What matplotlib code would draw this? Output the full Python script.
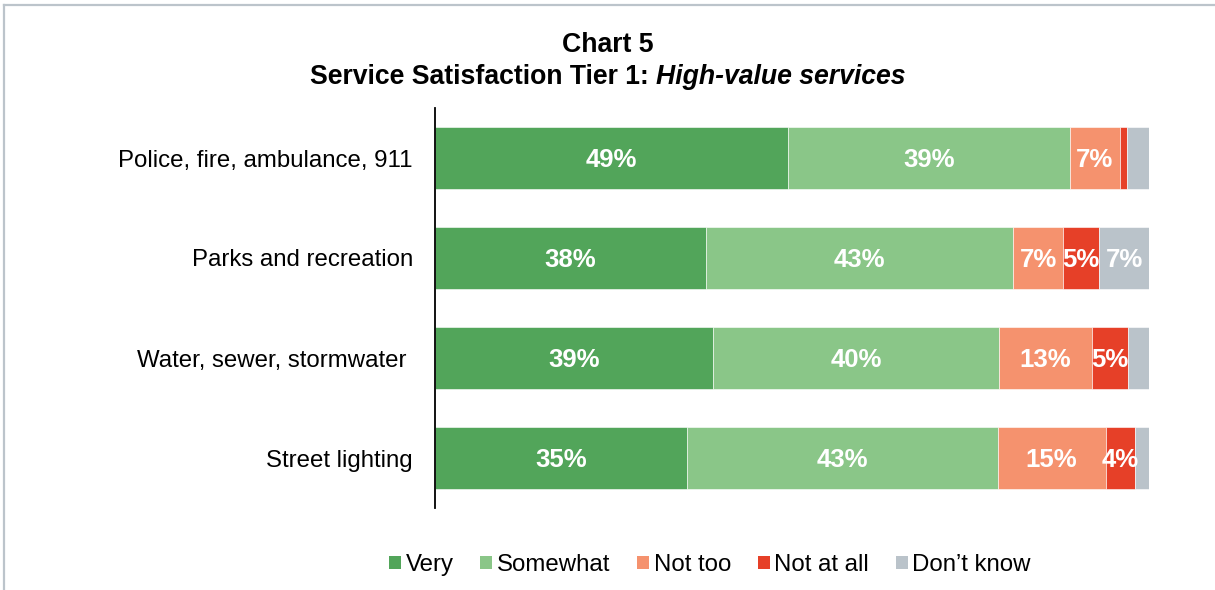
import matplotlib
matplotlib.use('Agg')
import matplotlib.pyplot as plt
from matplotlib.lines import Line2D
from matplotlib.patches import Patch
import numpy as np

plt.rcParams['font.family'] = ['Liberation Sans', 'DejaVu Sans']

# 数据
categories = ['Police, fire, ambulance, 911', 'Parks and recreation',
              'Water, sewer, stormwater ', 'Street lighting']
series_names = ['Very', 'Somewhat', 'Not too', 'Not at all', 'Don\u2019t know']
very = [49, 38, 39, 35]
somewhat = [39, 43, 40, 43]
not_too = [7, 7, 13, 15]
not_at_all = [1, 5, 5, 4]
dont_know = [3, 7, 3, 2]
colors = ['#52a55a', '#8ac688', '#f5926e', '#e64028', '#bac3ca']

data = np.array([very, somewhat, not_too, not_at_all, dont_know], dtype=float)
totals = data.sum(axis=0)
shares = data / totals * 100  # 百分比堆积

fig = plt.figure(figsize=(12.15, 5.9), dpi=100)
ax = fig.add_axes([435 / 1215, 82 / 590, 714 / 1215, 400 / 590])

y = np.arange(len(categories))
left = np.zeros(len(categories))
for i, name in enumerate(series_names):
    ax.barh(y, shares[i], left=left, height=0.62, color=colors[i],
            edgecolor='white', linewidth=0.4, label=name)
    for j in range(len(categories)):
        if data[i][j] >= 4:
            ax.text(left[j] + shares[i][j] / 2, y[j] + 0.02, '%d%%' % data[i][j],
                    ha='center', va='center', color='white',
                    fontsize=18.5, fontweight='bold')
    left = left + shares[i]

ax.set_xlim(0, 100)
ax.set_ylim(len(categories) - 0.5, -0.5)
ax.set_yticks(y)
ax.set_yticklabels(categories, fontsize=17.3)
ax.tick_params(axis='y', length=0, pad=16)
ax.set_xticks([])
for s in ['top', 'right', 'bottom']:
    ax.spines[s].set_visible(False)
ax.spines['left'].set_linewidth(1.3)

# 图例
handles = [Patch(facecolor=c, edgecolor='none') for c in colors]
fig.legend(handles, series_names, loc='center', bbox_to_anchor=(710 / 1215, 1 - 565 / 590),
           ncol=5, frameon=False, fontsize=17.3, handlelength=0.5, handleheight=0.5,
           handletextpad=0.2, columnspacing=1.1)

# 标题
fig.text(0.5, 1 - 45 / 590, 'Chart 5', ha='center', va='center',
         fontsize=19.2, fontweight='bold')
fig.canvas.draw()
r = fig.canvas.get_renderer()
t1 = fig.text(0, 1 - 77 / 590, 'Service Satisfaction Tier 1: ', ha='left', va='center',
              fontsize=19.2, fontweight='bold')
t2 = fig.text(0, 1 - 77 / 590, 'High-value services', ha='left', va='center',
              fontsize=19.2, fontweight='bold', fontstyle='italic')
w1 = t1.get_window_extent(r).width
w2 = t2.get_window_extent(r).width
fw = fig.bbox.width
x0 = (fw - w1 - w2) / 2
t1.set_x(x0 / fw)
t2.set_x((x0 + w1) / fw)

# 外框
fig.add_artist(Line2D([4 / 1215, 1], [1 - 5 / 590, 1 - 5 / 590], transform=fig.transFigure,
                      color='#bcc4cb', linewidth=1.6))
fig.add_artist(Line2D([4 / 1215, 4 / 1215], [0, 1 - 5 / 590], transform=fig.transFigure,
                      color='#bcc4cb', linewidth=1.6))

fig.savefig('out.png', dpi=100)
